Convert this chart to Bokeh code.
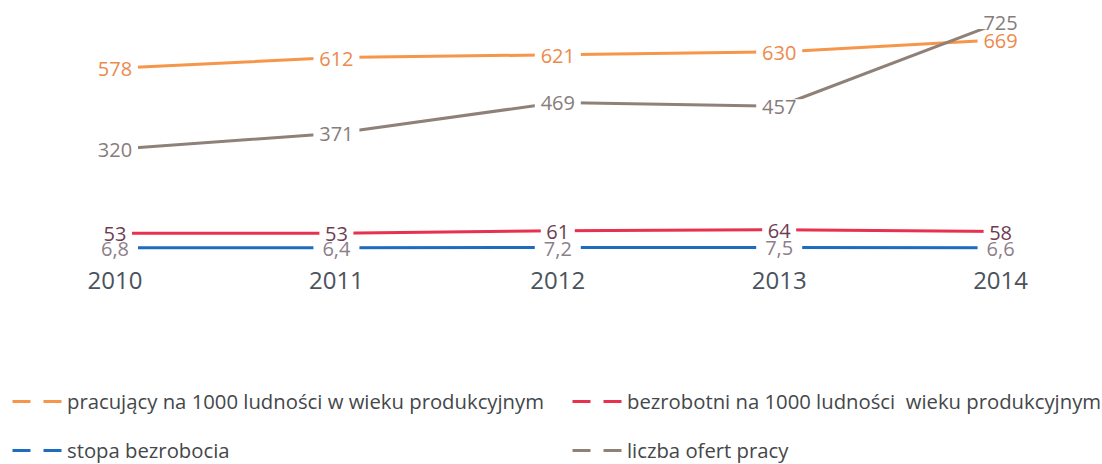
from bokeh.plotting import figure
from bokeh.layouts import column
from bokeh.models import Range1d, FixedTicker, Legend, LegendItem, ColumnDataSource
from bokeh.core.properties import value
from bokeh.embed import file_html
from bokeh.resources import INLINE

# ---- data ----
years = [2010, 2011, 2012, 2013, 2014]
year_labels = ["2010", "2011", "2012", "2013", "2014"]
pracujacy = [578, 612, 621, 630, 669]
bezrobotni = [53, 53, 61, 64, 58]
stopa = [6.8, 6.4, 7.2, 7.5, 6.6]
oferty = [320, 371, 469, 457, 725]

names = ["pracujący na 1000 ludności w wieku produkcyjnym",
         "bezrobotni na 1000 ludności  wieku produkcyjnym",
         "stopa bezrobocia",
         "liczba ofert pracy"]

FONT = "Open Sans"
W = 1102

p = figure(width=W, height=300, output_backend="svg", toolbar_location=None,
           x_range=Range1d(2009.4828, 2014.4603), y_range=Range1d(-40.4, 793.7),
           y_axis_location=None,
           min_border_left=0, min_border_right=0, min_border_top=0,
           min_border_bottom=38)
p.outline_line_color = None
p.xgrid.visible = False
p.ygrid.visible = False

ax = p.xaxis[0]
ax.ticker = FixedTicker(ticks=years)
ax.major_label_overrides = {y: s for y, s in zip(years, year_labels)}
ax.axis_line_color = None
ax.major_tick_line_color = None
ax.minor_tick_line_color = None
ax.major_tick_out = 0
ax.major_label_standoff = 9
ax.major_label_text_font = FONT
ax.major_label_text_font_size = "24px"
ax.major_label_text_color = "#4a535c"

def fmt(v):
    if isinstance(v, float):
        return f"{v:.1f}".replace(".", ",")
    return str(v)

series = [
    # values, line colour, label colour
    (pracujacy, "#f5964a", "#ec8a4e"),
    (oferty, "#8f8178", "#877c7a"),
    (bezrobotni, "#e8304f", "#6e3d52"),
    (stopa, "#1e6cc0", "#8c8089"),
]

for vals, lc, tc in series:
    p.line(years, vals, line_color=lc, line_width=3)

# white gaps behind labels
for vals, lc, tc in series:
    texts = [fmt(v) for v in vals]
    src = ColumnDataSource(dict(x=years, y=vals, t=texts,
                                w=[12 * len(t) + 10 for t in texts]))
    p.rect(x="x", y="y", width="w", height=14, width_units="screen",
           height_units="screen", source=src, fill_color="white", line_color=None)

for vals, lc, tc in series:
    texts = [fmt(v) for v in vals]
    src = ColumnDataSource(dict(x=years, y=vals, t=texts))
    p.text(x="x", y="y", text="t", source=src, text_align="center",
           text_baseline="middle", y_offset=1, text_font=value(FONT),
           text_font_size="20px", text_color=tc)

# ---- legend panel ----
q = figure(width=W, height=164, output_backend="svg", toolbar_location=None,
           x_range=Range1d(0, 1), y_range=Range1d(0, 1),
           x_axis_location=None, y_axis_location=None,
           min_border_left=0, min_border_right=0, min_border_top=0,
           min_border_bottom=0)
q.outline_line_color = None
q.xgrid.visible = False
q.ygrid.visible = False

# legend swatches: same series drawn in this panel (outside its visible range),
# with the dashed style that the reference's legend shows
leg_r = []
for vals, lc, tc in series:
    leg_r.append(q.line(years, vals, line_color=lc, line_width=3, line_dash="18 13"))

def mk_legend(items, loc):
    return Legend(items=items, location=loc, orientation="vertical",
                  padding=0, margin=0, spacing=21,
                  glyph_width=51, glyph_height=28, label_height=28,
                  label_standoff=4, border_line_color=None,
                  background_fill_alpha=0,
                  label_text_font=FONT, label_text_font_size="20.3px",
                  label_text_color="#44474a")

lg1 = mk_legend([LegendItem(label=names[0], renderers=[leg_r[0]]),
                 LegendItem(label=names[2], renderers=[leg_r[3]])], (12, 0))
lg2 = mk_legend([LegendItem(label=names[1], renderers=[leg_r[2]]),
                 LegendItem(label=names[3], renderers=[leg_r[1]])], (572, 0))
q.add_layout(lg1, "center")
q.add_layout(lg2, "center")

layout = column(p, q, spacing=0)
open("out.html", "w").write(file_html(layout, INLINE))
